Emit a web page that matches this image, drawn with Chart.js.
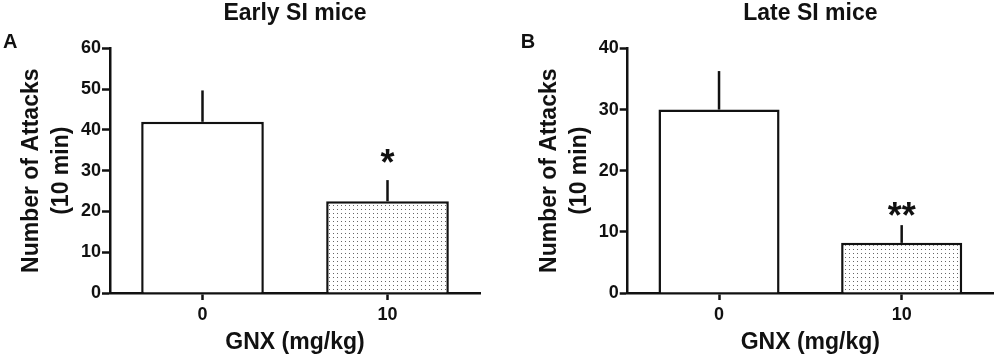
<!DOCTYPE html>
<html>
<head>
<meta charset="utf-8">
<script src="https://cdn.jsdelivr.net/npm/chart.js@4"></script>
<style>
  body { margin: 0; background: #fff; }
  #wrap { position: relative; width: 1000px; height: 357px; }
  .panel { position: absolute; top: 0; }
</style>
</head>
<body>
<div id="wrap">
  <div class="panel" style="left:0"><canvas id="chartA" width="500" height="357"></canvas></div>
  <div class="panel" style="left:500px"><canvas id="chartB" width="500" height="357"></canvas></div>
</div>
<script>
//---------------------Data-----------------------------
const doses = ["0", "10"];

const earlyMeans = [42.0, 22.5];
const earlySem = [7.7, 5.2];
const earlyStars = ["", "*"];
const earlyStarY = [null, 33.7];
const earlyTicks = [0, 10, 20, 30, 40, 50, 60];

const lateMeans = [30.0, 8.2];
const lateSem = [6.3, 2.9];
const lateStars = ["", "**"];
const lateStarY = [null, 13.8];
const lateTicks = [0, 10, 20, 30, 40];

const ink = "#111";
const FONT = "'Liberation Sans', Arial, sans-serif";

//---------------------Dotted fill-----------------------------
function dotPattern() {
  const c = document.createElement("canvas");
  c.width = 4;
  c.height = 4;
  const g = c.getContext("2d");
  g.fillStyle = "#fff";
  g.fillRect(0, 0, 4, 4);
  g.fillStyle = "#666";
  g.fillRect(1, 1, 1, 1);
  return g.createPattern(c, "repeat");
}

//---------------------Error bars, stars, panel letter-----------------------------
const extras = {
  id: "extras",
  afterDatasetsDraw(chart, args, opts) {
    const ctx = chart.ctx;
    const x = chart.scales.x;
    const y = chart.scales.y;
    ctx.save();
    ctx.strokeStyle = ink;
    ctx.lineWidth = 2.5;
    opts.means.forEach((m, i) => {
      const cx = x.getPixelForValue(i);
      ctx.beginPath();
      ctx.moveTo(cx, y.getPixelForValue(m));
      ctx.lineTo(cx, y.getPixelForValue(m + opts.sem[i]));
      ctx.stroke();

      if (opts.stars[i]) {
        ctx.font = "bold 36px " + FONT;
        ctx.fillStyle = ink;
        ctx.textAlign = "center";
        ctx.textBaseline = "alphabetic";
        const t = ctx.measureText(opts.stars[i]);
        const cy = y.getPixelForValue(opts.starY[i]);
        ctx.fillText(opts.stars[i], cx, cy + (t.actualBoundingBoxAscent - t.actualBoundingBoxDescent) / 2);
      }
    });

    ctx.font = "bold 20px " + FONT;
    ctx.fillStyle = ink;
    ctx.textAlign = "left";
    ctx.textBaseline = "middle";
    ctx.fillText(opts.letter, y.left + 3, 42);
    ctx.restore();
  },
};

//---------------------Chart-----------------------------
function makePanel(id, letter, title, means, sem, stars, starY, ticks, padLeft, padRight) {
  const ctx = document.getElementById(id);
  return new Chart(ctx, {
    type: "bar",
    data: {
      labels: doses,
      datasets: [
        {
          data: means,
          backgroundColor: ["#fff", dotPattern()],
          borderColor: ink,
          borderWidth: 2.5,
          barPercentage: 0.663,
          categoryPercentage: 1,
        },
      ],
    },
    options: {
      responsive: false,
      animation: false,
      layout: { padding: { left: padLeft, right: padRight, top: 0, bottom: 0 } },
      plugins: {
        legend: { display: false },
        tooltip: { enabled: false },
        title: {
          display: true,
          text: title,
          fullSize: false,
          color: ink,
          font: { family: FONT, size: 23, weight: "bold", lineHeight: 1.15 },
          padding: { top: 0, bottom: 22 },
        },
        extras: { letter: letter, means: means, sem: sem, stars: stars, starY: starY },
      },
      scales: {
        x: {
          z: 1,
          afterFit: (axis) => { axis.height = 64; },
          grid: {
            offset: false,
            drawOnChartArea: false,
            drawTicks: true,
            tickLength: 7,
            tickColor: ink,
            tickWidth: 2.5,
          },
          border: { display: true, color: ink, width: 2.5 },
          ticks: { color: ink, padding: 4, font: { family: FONT, size: 18, weight: "bold" } },
          title: {
            display: true,
            text: "GNX (mg/kg)",
            color: ink,
            font: { family: FONT, size: 23, weight: "bold", lineHeight: 1.15 },
            padding: { top: 0, bottom: 1 },
          },
        },
        y: {
          z: 1,
          min: ticks[0],
          max: ticks[ticks.length - 1],
          afterFit: (axis) => { axis.width = 110; },
          afterBuildTicks: (axis) => { axis.ticks = ticks.map((v) => ({ value: v })); },
          grid: {
            drawOnChartArea: false,
            drawTicks: true,
            tickLength: 8,
            tickColor: ink,
            tickWidth: 2.5,
          },
          border: { display: true, color: ink, width: 2.5 },
          ticks: { color: ink, padding: 1, font: { family: FONT, size: 18, weight: "bold" } },
          title: {
            display: true,
            text: ["Number of Attacks", "(10 min)"],
            color: ink,
            font: { family: FONT, size: 23, weight: "bold", lineHeight: 1.3 },
            padding: { top: 17, bottom: 0 },
          },
        },
      },
    },
    plugins: [extras],
  });
}

makePanel("chartA", "A", "Early SI mice", earlyMeans, earlySem, earlyStars, earlyStarY, earlyTicks, 0, 20);
makePanel("chartB", "B", "Late SI mice", lateMeans, lateSem, lateStars, lateStarY, lateTicks, 17.7, 7);
</script>
</body>
</html>
